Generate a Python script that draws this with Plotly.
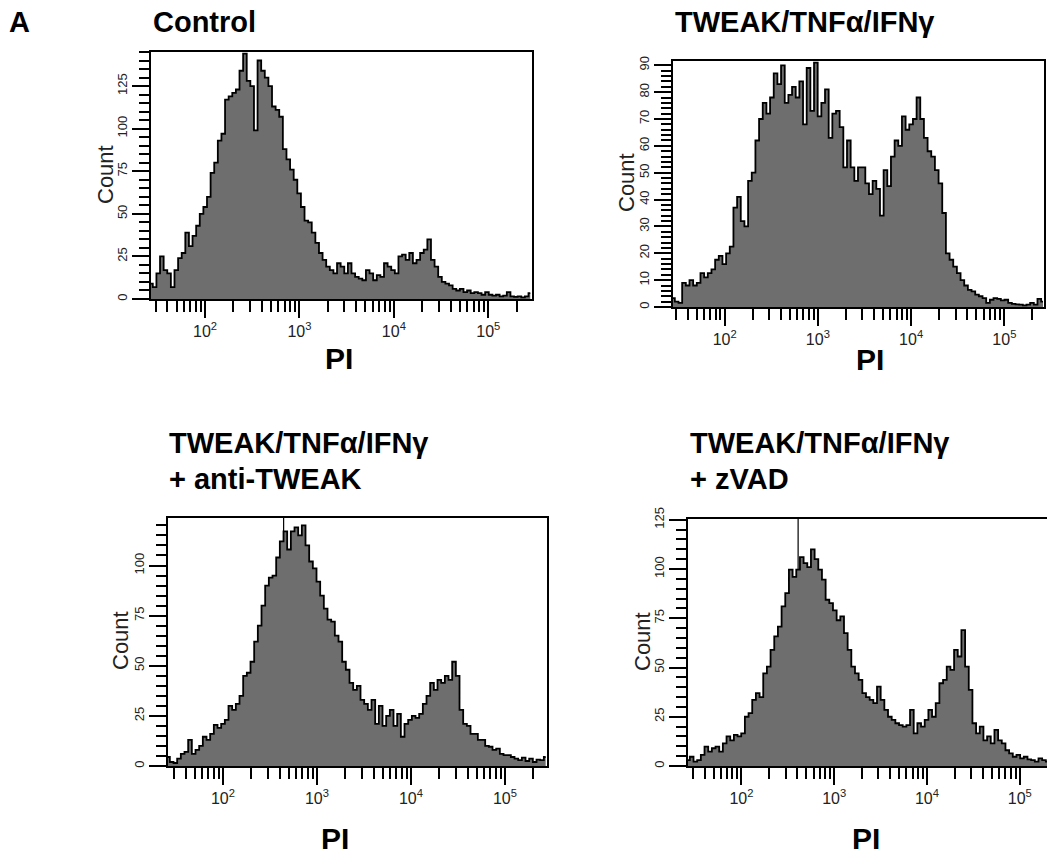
import numpy as np
import plotly.graph_objects as go

# ---------------- data (counts per log-spaced PI bin) ----------------
TITLES = ["Control", "TWEAK/TNFα/IFNγ", "TWEAK/TNFα/IFNγ<br>+ anti-TWEAK", "TWEAK/TNFα/IFNγ<br>+ zVAD"]

control_counts = [9, 7, 15, 25, 17, 15, 7, 17, 24, 27, 39, 31, 37, 43, 50, 54, 60, 74, 80, 93,
                  97, 117, 119, 121, 123, 134, 144, 128, 125, 99, 140, 134, 130, 125, 113, 111, 107, 88, 82, 76,
                  70, 62, 54, 46, 45, 39, 33, 27, 23, 19, 17, 15, 21, 19, 15, 21, 15, 13, 12, 11,
                  17, 15, 11, 14, 13, 21, 19, 17, 15, 25, 26, 23, 27, 21, 23, 27, 29, 35, 23, 19,
                  13, 10, 9, 8, 6, 5, 6, 4, 5, 3.5, 4, 3.5, 2.5, 4, 2.5, 2, 2.5, 1.5, 2, 4,
                  1.5, 1.2, 1.5, 1, 1.5, 3.5]

tweak_counts = [3.3, 2, 1.5, 9, 8, 10, 8, 9, 12.6, 11, 12.6, 14, 17.6, 19, 16, 20, 22.5, 37, 41, 32,
                30, 47, 50, 62, 70, 76, 72, 78, 87, 83, 90, 76, 79, 82, 78, 84, 68, 89, 73, 91,
                71, 76, 81, 63, 72, 73, 67, 52, 62, 52, 47, 52, 52, 46, 42, 47, 44, 34, 51, 45,
                56, 62, 60, 71, 66, 68, 70, 78, 70, 63, 58, 56, 51, 46, 35, 20, 17.6, 15, 12.6, 10,
                8, 6.4, 5.8, 4.6, 4, 3.3, 1.5, 2.7, 3.3, 3, 2.5, 2.7, 1.5, 1.2, 1, 0.9, 0.6, 0.9,
                1.5, 0.9, 3, 2]

anti_counts = [4.5, 2, 1.5, 3.7, 6, 7, 13, 6, 8, 10, 14.6, 13, 16, 20.5, 19, 21, 23, 30, 28, 31,
               35, 45, 46.5, 52, 62, 70, 80, 90, 94, 95, 104, 112, 117, 108, 117, 119, 115, 120, 110, 102,
               98.6, 92, 85, 78.5, 73, 72, 65, 62, 52, 48, 41.5, 38, 40, 33, 31, 28, 33, 21, 30, 20,
               25, 28, 20, 26, 14.6, 21, 23, 25, 24, 26, 31, 35, 41.5, 38, 43, 41.5, 45, 43, 52, 45,
               28, 21, 20, 16, 16, 13, 13, 10, 9.6, 8, 8.7, 6, 5.4, 5.4, 4.5, 3.7, 2.9, 4.2, 2.5, 3.7,
               2, 3.2, 2.9, 4.5]

zvad_counts = [3, 4.7, 2.2, 3, 5.6, 9.8, 7.3, 9, 9.8, 7.3, 11.5, 15, 13, 15.8, 15, 16.6, 25, 26.8, 33.6, 37,
               35, 47, 50.5, 59, 65.8, 70.8, 81, 87.8, 99.7, 96, 99.7, 106, 103, 101, 110, 105, 99.7, 94.6, 84.4, 82.7,
               79, 74, 76, 67.5, 59, 50.5, 47, 43.7, 37, 35, 33.6, 31.9, 40.3, 33.6, 28.5, 25, 23.4, 21.7, 20.8, 20,
               20.8, 28.5, 16.6, 21.7, 20, 23.4, 28.5, 25, 31.9, 42, 43.7, 50.5, 48.8, 59, 55.6, 69, 50.5, 38.6, 21.7, 16.6,
               20, 13, 15, 11.5, 18.3, 13, 11.5, 8, 6.4, 4.7, 5.6, 3.9, 4.7, 3.4, 3, 2.2, 3.9, 3, 2.2, 3.4,
               1.4]

SERIES = [control_counts, tweak_counts, anti_counts, zvad_counts]
# log10(PI) of first and last bin centre, and visible axis range (log10)
BIN_CENTRE_LOG = [(1.428, 5.445), (1.446, 5.414), (1.415, 5.433), (1.424, 5.38)]
AXIS_RANGE_LOG = [(1.428, 5.463), (1.446, 5.425), (1.415, 5.447), (1.424, 5.38)]
Y_MAX = [145, 91.6, 123.7, 125.4]
Y_MAJOR = [25, 10, 25, 25]
Y_MINOR = [5, 2, 5, 5]
GATE_LOG = [None, None, 2.645, 2.611]

X_MAJOR = [100, 1000, 10000, 100000]
X_MAJOR_TEXT = ["10<sup>2</sup>", "10<sup>3</sup>", "10<sup>4</sup>", "10<sup>5</sup>"]
X_MINOR = [m * 10 ** d for d in range(1, 6) for m in range(2, 10)]

# ---------------- layout geometry (pixels in the 1055x853 picture) ----------------
PAGE_W, PAGE_H = 1055, 853
OFF = 8                      # page body margin in the browser
W, H = PAGE_W - OFF, PAGE_H - OFF
BOXES = [(151, 532, 52, 299), (673, 1044, 61, 307), (168, 547, 518, 766), (688, 1055, 519, 766)]
TITLE_POS = [(151, 22), (673, 22), (167, 443), (688, 443)]
PI_POS = [(339, 358), (870, 359), (335, 838), (866, 838)]
COUNT_POS = [(105, 175), (627, 183), (120, 641), (642, 642)]


def fx(px):
    return (px - OFF) / W


def fy(py):
    return 1 - (py - OFF) / H


FONT = "Liberation Sans, Arial, sans-serif"
fig = go.Figure()
annotations = []

for i in range(4):
    ax = "" if i == 0 else str(i + 1)
    xa, ya = "x" + ax, "y" + ax
    counts = SERIES[i]
    lo, hi = BIN_CENTRE_LOG[i]
    xs = 10 ** np.linspace(lo, hi, len(counts))
    if GATE_LOG[i] is not None:
        gx = 10 ** GATE_LOG[i]
        fig.add_trace(go.Scatter(x=[gx, gx], y=[0, Y_MAX[i]], mode="lines",
                                 line=dict(color="black", width=1.2),
                                 xaxis=xa, yaxis=ya, showlegend=False, hoverinfo="skip"))
    fig.add_trace(go.Scatter(x=xs, y=counts, mode="lines", line_shape="hvh",
                             line=dict(color="black", width=1.8),
                             fill="tozeroy", fillcolor="#6e6e6e",
                             xaxis=xa, yaxis=ya, showlegend=False))
    x0, x1, y0, y1 = BOXES[i]
    xdom = [max(fx(x0), 0.0), min(fx(x1), 1.0)]
    ydom = [fy(y1), fy(y0)]
    fig.layout["xaxis" + ax] = dict(
        domain=xdom, type="log", range=list(AXIS_RANGE_LOG[i]), anchor=ya,
        tickmode="array", tickvals=X_MAJOR, ticktext=X_MAJOR_TEXT,
        ticks="outside", ticklen=17, tickwidth=2, tickcolor="black",
        minor=dict(tickmode="array", tickvals=X_MINOR, ticks="outside", ticklen=11,
                   tickwidth=2, tickcolor="black"),
        showline=True, linecolor="black", linewidth=2, mirror=True,
        showgrid=False, zeroline=False, automargin=False,
        tickfont=dict(family=FONT, size=16, color="#222"),
    )
    fig.layout["yaxis" + ax] = dict(
        domain=ydom, range=[0, Y_MAX[i]], anchor=xa,
        tickmode="linear", tick0=0, dtick=Y_MAJOR[i],
        ticks="outside", ticklen=17, tickwidth=2, tickcolor="black",
        minor=dict(dtick=Y_MINOR[i], ticks="outside", ticklen=10, tickwidth=2, tickcolor="black"),
        showline=True, linecolor="black", linewidth=2, mirror=(i != 3),
        showgrid=False, zeroline=False, tickangle=-90, automargin=False,
        tickfont=dict(family=FONT, size=13, color="#222"),
    )
    # titles
    tx, ty = TITLE_POS[i]
    lines = TITLES[i].split("<br>")
    for k, ln in enumerate(lines):
        annotations.append(dict(text=ln, x=fx(tx), y=fy(ty + 36 * k), xref="paper", yref="paper",
                                xanchor="left", yanchor="middle", showarrow=False,
                                font=dict(family=FONT, size=29, color="black", weight="bold")))
    px, py = PI_POS[i]
    annotations.append(dict(text="<b>PI</b>", x=fx(px), y=fy(py), xref="paper", yref="paper",
                            xanchor="center", yanchor="middle", showarrow=False,
                            font=dict(family=FONT, size=30, color="black")))
    cx, cy = COUNT_POS[i]
    annotations.append(dict(text="Count", x=fx(cx), y=fy(cy), xref="paper", yref="paper",
                            xanchor="center", yanchor="middle", showarrow=False, textangle=-90,
                            font=dict(family=FONT, size=22, color="#222")))

annotations.append(dict(text="<b>A</b>", x=fx(19), y=fy(22), xref="paper", yref="paper",
                        xanchor="center", yanchor="middle", showarrow=False,
                        font=dict(family=FONT, size=29, color="black")))

fig.update_layout(template="none", width=W, height=H, margin=dict(l=0, r=0, t=0, b=0, autoexpand=False),
                  paper_bgcolor="white", plot_bgcolor="white",
                  annotations=annotations, showlegend=False)

fig.write_html("out.html")
